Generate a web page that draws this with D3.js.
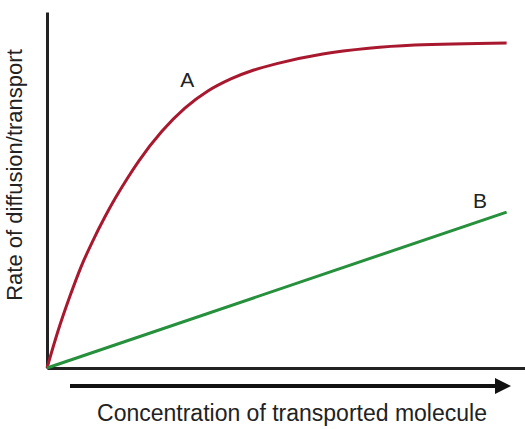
<!DOCTYPE html>
<html>
<head>
<meta charset="utf-8">
<script src="https://cdn.jsdelivr.net/npm/d3@7"></script>
<style>
  body { margin: 0; background: #fff; }
  text { font-family: "Liberation Sans", Arial, sans-serif; fill: #222; }
</style>
</head>
<body>
<div id="chart"></div>
<script>
// concentration (arbitrary units) vs rate
const concA = [0, 0.25, 0.5, 0.75, 1, 1.25, 1.5, 1.75, 2, 2.5, 3, 3.5, 4, 4.5, 5, 6, 7, 8, 10];
const rateA = [0, 1.08, 2.02, 2.87, 3.58, 4.22, 4.8, 5.33, 5.82, 6.65, 7.3, 7.78, 8.12, 8.37, 8.55, 8.82, 8.98, 9.07, 9.13];
const concB = [0, 10];
const rateB = [0, 4.38];
const labels = ['A', 'B'];
const xTitle = 'Concentration of transported molecule';
const yTitle = 'Rate of diffusion/transport';

const width = 525, height = 429;
const svg = d3.select('#chart').append('svg')
    .attr('width', width)
    .attr('height', height);

let x = d3.scaleLinear().domain([0, 10.4]).range([47, 525]);
let y = d3.scaleLinear().domain([0, 10]).range([368, 12]);

// axes, no ticks
svg.append('g')
    .attr('transform', `translate(0,${y(0)})`)
    .call(d3.axisBottom(x).tickValues([]).tickSizeOuter(0))
    .select('.domain').attr('stroke', '#222').attr('stroke-width', 3);
svg.append('g')
    .attr('transform', `translate(${x(0)},0)`)
    .call(d3.axisLeft(y).tickValues([]).tickSizeOuter(0))
    .select('.domain').attr('stroke', '#222').attr('stroke-width', 3);

let line = d3.line()
    .x(d => x(d[0]))
    .y(d => y(d[1]))
    .curve(d3.curveMonotoneX);

svg.append('path')
    .datum(d3.zip(concA, rateA))
    .attr('d', line)
    .attr('fill', 'none')
    .attr('stroke', '#a8182e')
    .attr('stroke-width', 3);

svg.append('path')
    .datum(d3.zip(concB, rateB))
    .attr('d', line)
    .attr('fill', 'none')
    .attr('stroke', '#26903c')
    .attr('stroke-width', 3);

// curve labels
svg.append('text')
    .attr('x', x(3.05)).attr('y', y(7.89))
    .attr('text-anchor', 'middle')
    .style('font-size', '21px')
    .text(labels[0]);
svg.append('text')
    .attr('x', x(9.42)).attr('y', y(4.49))
    .attr('text-anchor', 'middle')
    .style('font-size', '21px')
    .text(labels[1]);

// arrow under x axis
svg.append('defs').append('marker')
    .attr('id', 'head')
    .attr('viewBox', '0 0 10 10')
    .attr('refX', 0).attr('refY', 5)
    .attr('markerWidth', 6).attr('markerHeight', 4)
    .attr('markerUnits', 'strokeWidth')
    .attr('orient', 'auto')
    .append('path')
    .attr('d', 'M0,0 L10,5 L0,10 Z')
    .attr('fill', '#111');

svg.append('line')
    .attr('x1', 70).attr('x2', 495)
    .attr('y1', 386).attr('y2', 386)
    .attr('stroke', '#111')
    .attr('stroke-width', 4)
    .attr('marker-end', 'url(#head)');

svg.append('text')
    .attr('x', 292).attr('y', 421)
    .attr('text-anchor', 'middle')
    .style('font-size', '23px')
    .text(xTitle);

svg.append('text')
    .attr('transform', 'translate(22,175) rotate(-90)')
    .attr('text-anchor', 'middle')
    .style('font-size', '22px')
    .text(yTitle);
</script>
</body>
</html>
